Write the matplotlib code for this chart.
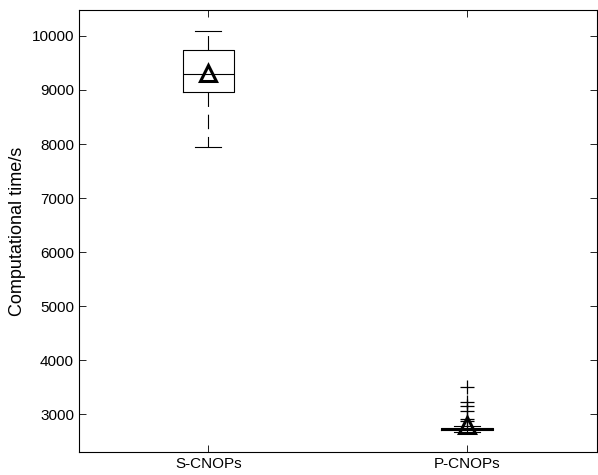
import matplotlib.pyplot as plt

plt.rcParams['font.family'] = ['Liberation Sans', 'DejaVu Sans']

# valeurs
groupes = ['S-CNOPs', 'P-CNOPs']
mediane = [9296, 2730]
q1 = [8957, 2712]
q3 = [9735, 2748]
moustache_bas = [7944, 2680]
moustache_haut = [10098, 2790]
moyenne = [9310, 2810]
aberrants = [[], [2880, 2920, 3070, 3160, 3230, 3500]]

stats = []
for i in range(len(groupes)):
    stats.append({
        'label': groupes[i],
        'med': mediane[i],
        'q1': q1[i],
        'q3': q3[i],
        'whislo': moustache_bas[i],
        'whishi': moustache_haut[i],
        'mean': moyenne[i],
        'fliers': aberrants[i],
    })

fig = plt.figure(figsize=(5.98, 4.75), dpi=100)
ax = fig.add_axes([0.132, 0.048, 0.866, 0.931])

ax.bxp(stats, positions=[1, 2], widths=0.2, showmeans=True, showcaps=True,
       boxprops=dict(color='black', linewidth=0.8),
       medianprops=dict(color='black', linewidth=0.8),
       whiskerprops=dict(color='black', linewidth=0.8, linestyle=(0, (13, 7))),
       capprops=dict(color='black', linewidth=0.8),
       flierprops=dict(marker='+', markeredgecolor='black', markersize=10, markeredgewidth=0.9),
       meanprops=dict(marker='^', markerfacecolor='none', markeredgecolor='black',
                      markersize=11, markeredgewidth=2.2))

ax.set_xlim(0.5, 2.5)
ax.set_ylim(2300, 10480)
ax.set_yticks([3000, 4000, 5000, 6000, 7000, 8000, 9000, 10000])
ax.set_ylabel('Computational time/s', fontsize=13)
# ticks des deux cotes comme sous matlab
ax.tick_params(axis='both', labelsize=11, direction='in', length=5, width=0.6,
               top=True, right=True)
for s in ax.spines.values():
    s.set_linewidth(0.8)

fig.savefig('out.png', dpi=100)
